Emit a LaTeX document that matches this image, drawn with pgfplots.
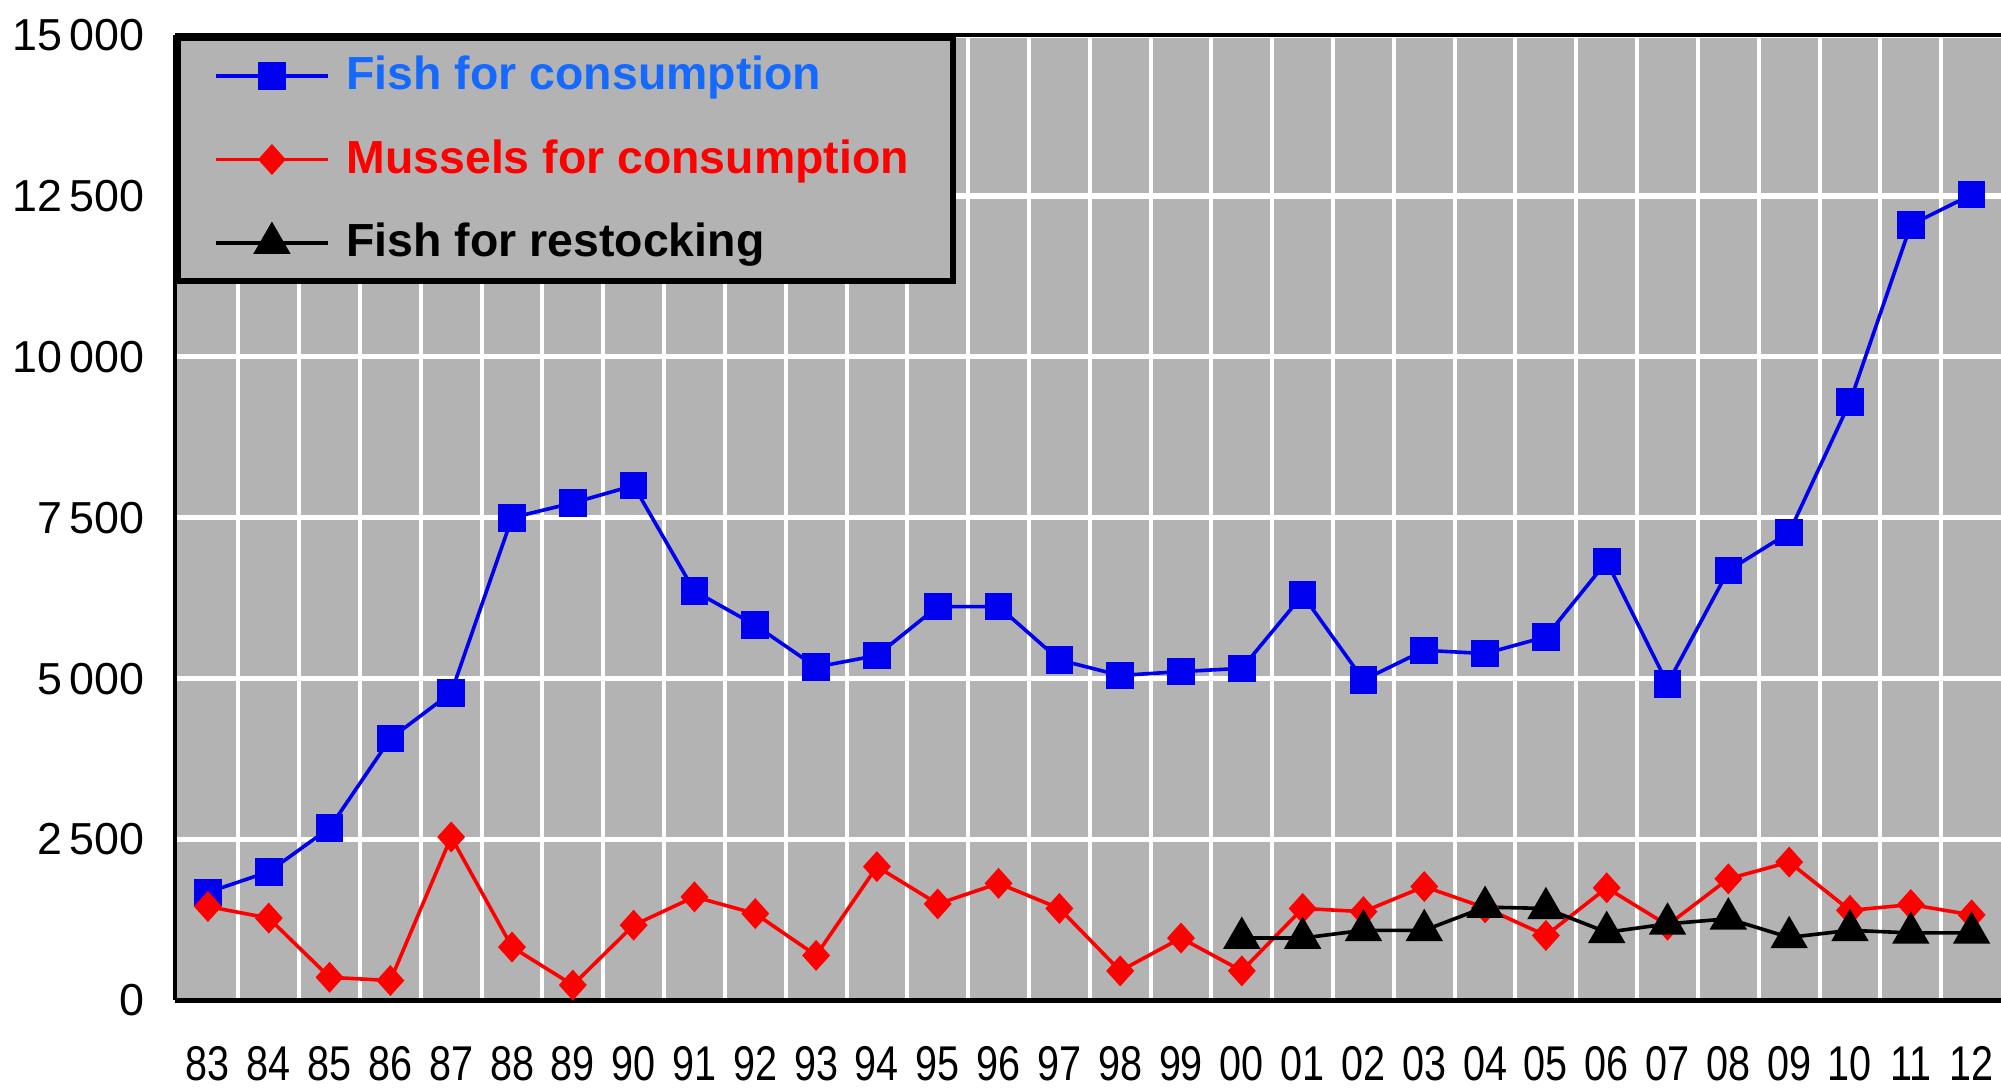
\documentclass[border=0pt]{standalone}
\usepackage{pgfplots}
\pgfplotsset{compat=1.18}
\usepackage{fontspec}
\setmainfont{Liberation Sans}
\newfontfamily\narrowfont{Liberation Sans}[FakeStretch=0.81]
\definecolor{bg}{RGB}{179,179,179}
\definecolor{lblue}{RGB}{20,105,255}
\definecolor{sblue}{RGB}{0,0,240}
\begin{document}
\begin{tikzpicture}
\useasboundingbox (0,0) rectangle (500pt,271.75pt);
\begin{axis}[
  at={(43.75pt,21.75pt)}, anchor=south west,
  scale only axis, width=456.5pt, height=241.25pt,
  xmin=-0.54, xmax=29.5, ymin=0, ymax=15000,
  scaled y ticks=false,
  axis background/.style={fill=bg},
  axis x line*=box, axis y line*=left,
  axis line style={black, line width=1.2pt},
  xtick={0,...,29},
  xticklabels={83,84,85,86,87,88,89,90,91,92,93,94,95,96,97,98,99,00,01,02,03,04,05,06,07,08,09,10,11,12},
  ytick={0,2500,5000,7500,10000,12500,15000},
  yticklabels={0,2\,500,5\,000,7\,500,10\,000,12\,500,15\,000},
  major tick length=0pt, minor tick length=0pt,
  minor xtick={0.5,1.5,2.5,3.5,4.5,5.5,6.5,7.5,8.5,9.5,10.5,11.5,12.5,13.5,14.5,15.5,16.5,17.5,18.5,19.5,20.5,21.5,22.5,23.5,24.5,25.5,26.5,27.5,28.5},
  xminorgrids, minor x grid style={white, line width=1pt},
  ymajorgrids, major y grid style={white, line width=1.3pt},
  xticklabel style={font=\narrowfont\fontsize{12.2}{14}\selectfont, anchor=base, yshift=-20pt, inner sep=0pt},
  yticklabel style={font=\fontsize{11.2}{13}\selectfont, anchor=east, inner sep=0pt, xshift=-7.5pt},
  legend style={at={(0,1)}, anchor=north west, fill=bg, draw=black, line width=1.5pt,
    inner xsep=9pt, inner ysep=2.5pt, row sep=7pt,
    font=\bfseries\fontsize{11.6}{13}\selectfont, cells={anchor=west}},
  legend image code/.code={\draw[mark repeat=2, mark phase=2] plot coordinates {(0pt,0pt) (14pt,0pt) (28pt,0pt)};},
]
\addplot[sblue, line width=0.9pt, mark=square*, mark size=3pt, mark options={solid}] coordinates {
(0,1680) (1,2000) (2,2680) (3,4070) (4,4780) (5,7500) (6,7730) (7,8000) (8,6360) (9,5830)
(10,5180) (11,5360) (12,6120) (13,6120) (14,5290) (15,5050) (16,5110) (17,5160) (18,6300) (19,4980)
(20,5440) (21,5390) (22,5650) (23,6820) (24,4920) (25,6680) (26,7270) (27,9300) (28,12050) (29,12520)};
\addlegendentry{\hspace{2.2pt}\textcolor{lblue}{Fish for consumption}}
\addplot[red, line width=0.9pt, mark=diamond*, mark size=3.2pt, mark options={solid, xscale=1.2}] coordinates {
(0,1460) (1,1280) (2,360) (3,310) (4,2540) (5,830) (6,240) (7,1170) (8,1610) (9,1350)
(10,700) (11,2080) (12,1500) (13,1820) (14,1430) (15,460) (16,970) (17,460) (18,1430) (19,1380)
(20,1770) (21,1440) (22,1010) (23,1750) (24,1170) (25,1890) (26,2150) (27,1400) (28,1490) (29,1330)};
\addlegendentry{\hspace{2.2pt}\textcolor{red}{Mussels for consumption}}
\addplot[black, line width=0.9pt, mark=triangle*, mark size=4.5pt, mark options={solid}] coordinates {
(17,970) (18,970) (19,1090) (20,1090) (21,1450) (22,1430) (23,1060) (24,1190) (25,1270) (26,980)
(27,1090) (28,1050) (29,1050)};
\addlegendentry{\hspace{2.2pt}Fish for restocking}
\end{axis}
\end{tikzpicture}
\end{document}
